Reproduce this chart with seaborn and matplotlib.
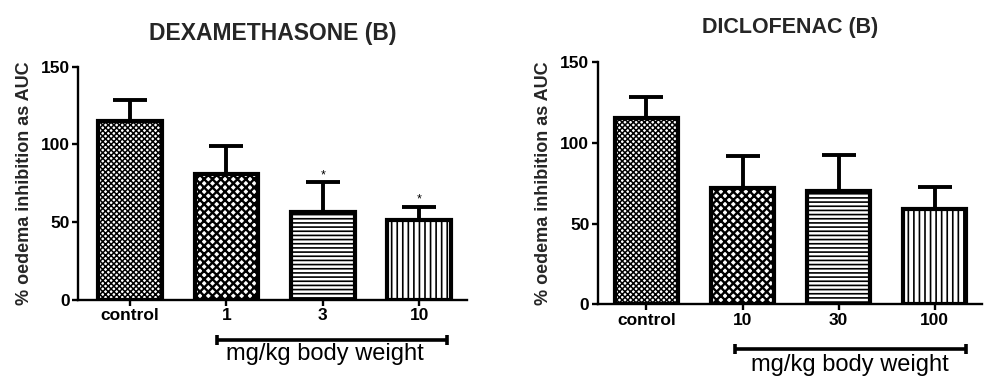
import matplotlib
matplotlib.use("Agg")
import matplotlib.pyplot as plt
import matplotlib.transforms as mtransforms
import seaborn as sns
import pandas as pd
import numpy as np

# ---- data ----
dexa_categories = ["control", "1", "3", "10"]
dexa_means = [115.3, 80.8, 56.8, 51.4]
dexa_err_top = [128.5, 99.0, 75.6, 60.0]
dexa_stars = ["", "", "*", "*"]

diclo_categories = ["control", "10", "30", "100"]
diclo_means = [115.7, 72.3, 70.4, 58.9]
diclo_err_top = [128.3, 91.9, 92.7, 72.9]
diclo_stars = ["", "", "", ""]

titles = ["DEXAMETHASONE (B)", "DICLOFENAC (B)"]
ylabel = "% oedema inhibition as AUC"
bracket_label = "mg/kg body weight"
yticks = [0, 50, 100, 150]

hatches = ["xxxxxx", "xxxx", "----", "|||"]
hatch_lw = [1.1, 1.7, 1.2, 1.2]

sns.set_theme(style="white")
plt.rcParams["font.family"] = ["Liberation Sans", "DejaVu Sans"]
plt.rcParams["hatch.color"] = "black"

fig = plt.figure(figsize=(10, 3.89), dpi=100)
ax1 = fig.add_axes([0.078, 0.2288, 0.389, 0.5998])
ax2 = fig.add_axes([0.5977, 0.2177, 0.384, 0.6221])

panels = [
    (ax1, dexa_categories, dexa_means, dexa_err_top, dexa_stars, titles[0],
     (-0.54, 3.496), -0.116, (0.90, 3.29), -0.171, (2.02, -0.186), 16.5, 19),
    (ax2, diclo_categories, diclo_means, diclo_err_top, diclo_stars, titles[1],
     (-0.508, 3.49), -0.12, (0.92, 3.33), -0.185, (2.12, -0.205), 15.5, 21),
]

for (ax, cats, means, tops, stars, title, xlim, ylab_x,
     br_x, br_y, txt_pos, tsize, tpad) in panels:
    df = pd.DataFrame({"dose": cats, "value": means})
    sns.barplot(data=df, x="dose", y="value", order=cats, ax=ax,
                color="white", edgecolor="black", linewidth=3.0,
                width=0.66, saturation=1, errorbar=None, zorder=2)
    for p, h, hl in zip(ax.patches, hatches, hatch_lw):
        p.set_facecolor("white")
        p.set_hatch(h)
        try:
            p.set_hatch_linewidth(hl)
        except Exception:
            pass
    pos = np.arange(len(cats))
    lower = np.zeros(len(cats))
    upper = np.array(tops) - np.array(means)
    ax.errorbar(pos, means, yerr=[lower, upper], fmt="none", ecolor="black",
                elinewidth=2.8, capsize=12, capthick=2.8, zorder=3)
    for x, t, s in zip(pos, tops, stars):
        if s:
            ax.text(x, t + 0.5, s, ha="center", va="bottom", fontsize=9,
                    color="black")

    ax.set_xlim(*xlim)
    ax.set_ylim(0, 150)
    ax.set_yticks(yticks)
    ax.set_xlabel("")
    ax.set_ylabel(ylabel, fontsize=13, fontweight="bold")
    ax.yaxis.set_label_coords(ylab_x, 0.5)
    for sp in ["top", "right"]:
        ax.spines[sp].set_visible(False)
    for sp in ["left", "bottom"]:
        ax.spines[sp].set_linewidth(1.7)
        ax.spines[sp].set_color("black")
    ax.tick_params(axis="both", which="both", direction="out", length=4,
                   width=1.7, color="black", labelsize=12.5, pad=2,
                   bottom=True, left=True)
    for lab in ax.get_xticklabels() + ax.get_yticklabels():
        lab.set_fontweight("bold")
        lab.set_color("black")
    ax.set_title(title, fontsize=tsize, fontweight="bold", pad=tpad)

    trans = mtransforms.blended_transform_factory(ax.transData, ax.transAxes)
    ax.plot([br_x[0], br_x[1]], [br_y, br_y], color="black", lw=2.6,
            transform=trans, clip_on=False, solid_capstyle="butt")
    for bx in br_x:
        ax.plot([bx, bx], [br_y - 0.02, br_y + 0.02], color="black", lw=2.6,
                transform=trans, clip_on=False, solid_capstyle="butt")
    ax.text(txt_pos[0], txt_pos[1], bracket_label, transform=trans,
            ha="center", va="top", fontsize=17, color="black")

fig.savefig("out.png", dpi=100, facecolor="white")
